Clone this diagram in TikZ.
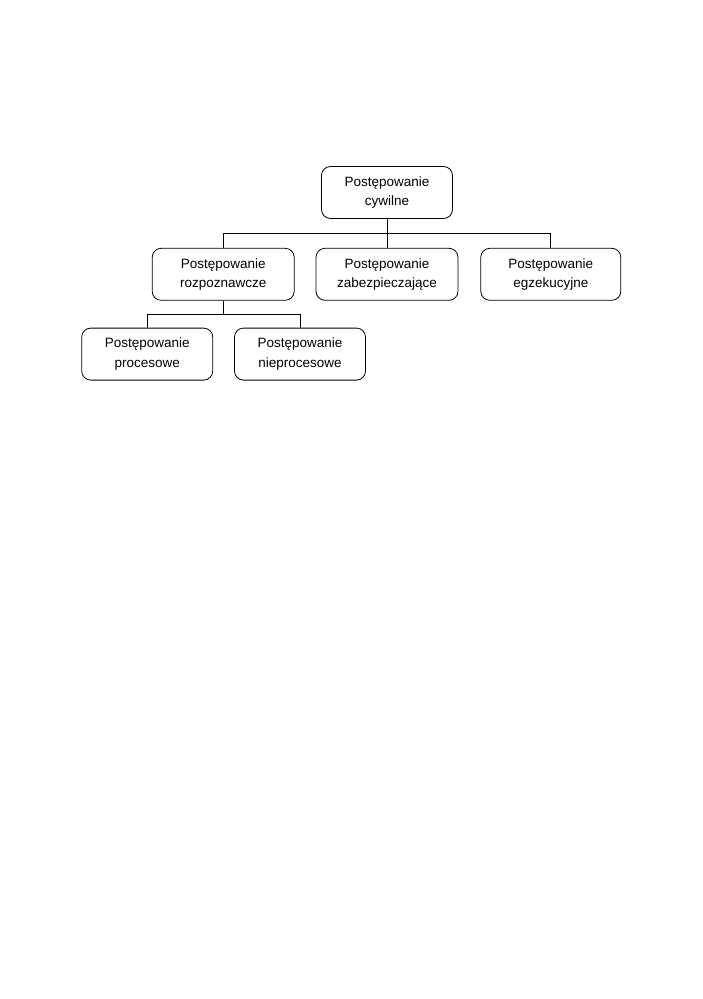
\documentclass[tikz,border=0pt]{standalone}
\usepackage{fontspec}
\setmainfont{Liberation Sans}
\usepackage{tikz}
\usetikzlibrary{positioning}
\tikzset{
  procbox/.style={draw, rounded corners=9pt, align=center, font=\fontsize{13.5}{19.5}\selectfont,
                  minimum width=142pt, minimum height=52pt, inner sep=2pt, line width=0.8pt},
  narrowbox/.style={procbox, minimum width=131pt},
  treeline/.style={line width=0.8pt}
}

\begin{document}
\begin{tikzpicture}[node distance=29pt and 21pt]
\useasboundingbox (0,0) rectangle (702pt,-999pt);

% Root
\node[narrowbox] (civil) at (387pt,-192.5pt) {Postępowanie\\cywilne};

% Second level
\node[procbox, below=of civil]        (secure)  {Postępowanie\\zabezpieczające};
\node[procbox, left=of secure]        (cognit)  {Postępowanie\\rozpoznawcze};
\node[procbox, minimum width=140pt, right=22pt of secure] (enforce) {Postępowanie\\egzekucyjne};

% Third level
\node[narrowbox, below=27pt of cognit, xshift=-76pt] (contest)    {Postępowanie\\procesowe};
\node[narrowbox, right=of contest]                   (noncontest) {Postępowanie\\nieprocesowe};

% Connectors
\draw[treeline] (civil.south) -- +(0,-14.5pt) coordinate (fork1);
\draw[treeline] (cognit.north) |- (fork1) -| (enforce.north);
\draw[treeline] (fork1) -- (secure.north);

\draw[treeline] (cognit.south) -- +(0,-13.5pt) coordinate (fork2);
\draw[treeline] (contest.north) |- (fork2) -| (noncontest.north);

\end{tikzpicture}
\end{document}
